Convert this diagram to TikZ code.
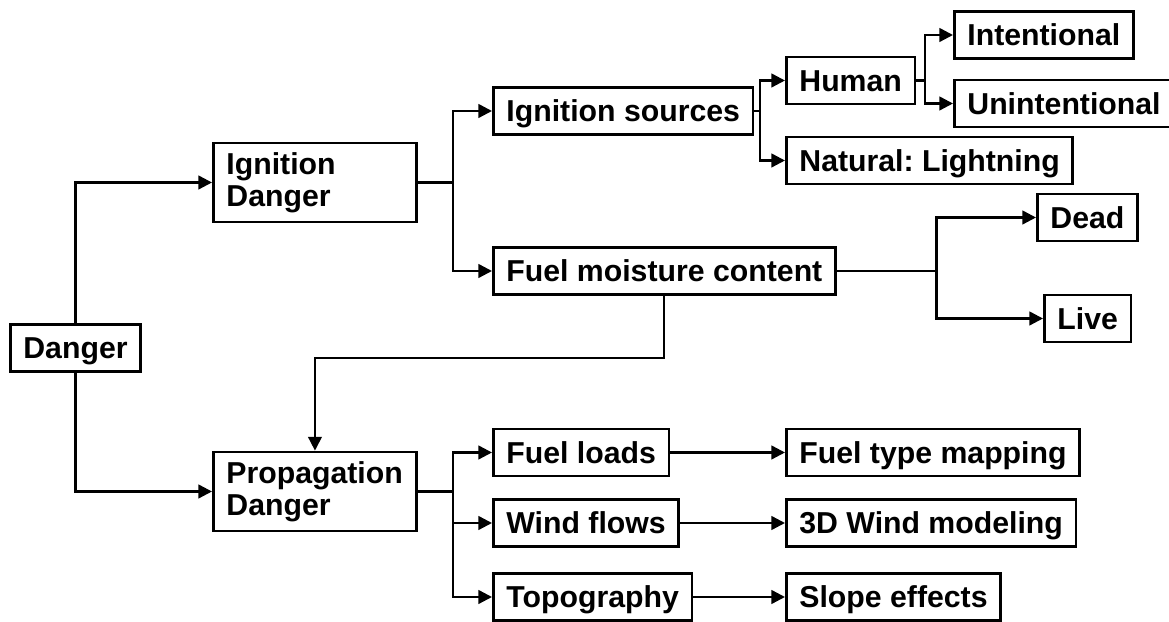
\documentclass[tikz,border=0pt]{standalone}
\usepackage{fontspec}
\setmainfont{Liberation Sans}
\usetikzlibrary{arrows.meta}
\begin{document}
\begin{tikzpicture}[x=0.01cm,y=-0.01cm]
\tikzset{
    base box/.style={draw, line width=0.8pt, anchor=west, align=left, inner xsep=0.13cm, inner ysep=0pt,
        font=\fontsize{8.6}{9}\selectfont\bfseries\frenchspacing},
    box/.style={base box, text height=6.2pt, text depth=0pt, minimum height=0.47cm},
    tall box/.style={base box, text width=1.77cm, minimum height=0.79cm},
    join line/.style={line width=0.7pt},
    link/.style={join line, -{Triangle[length=3.9pt,width=3.9pt]}},
    feed line/.style={link, line width=0.5pt}}
\useasboundingbox (0,0) rectangle (1169,622);

% boxes
\node[box] (Danger) at (9,348) {Danger};
\node[tall box] (IgnDanger) at (212,182.5) {Ignition\\Danger};
\node[tall box] (PropDanger) at (212,491.5) {Propagation\\Danger};

\node[box] (IgnSources) at (492,111) {Ignition sources};
\node[box] (FuelMoist) at (492,271) {Fuel moisture content};
\node[box] (Human) at (785,80.5) {Human};
\node[box] (Natural) at (785,160.5) {Natural: Lightning};
\node[box] (Intent) at (953,35) {Intentional};
\node[box] (Unintent) at (953,103.5) {Unintentional};
\node[box] (Dead) at (1036,217.5) {Dead};
\node[box] (Live) at (1043,318.5) {Live};

\node[box] (FuelLoads) at (492,452.5) {Fuel loads};
\node[box] (WindFlows) at (492,523) {Wind flows};
\node[box] (Topo) at (492,597) {Topography};
\node[box] (FuelType) at (785,452.5) {Fuel type mapping};
\node[box] (WindModel) at (785,523) {3D Wind modeling};
\node[box] (Slope) at (785,597) {Slope effects};

% branch points
\coordinate (IgnJoin) at (453,182.5);
\coordinate (PropJoin) at (453,491.5);
\coordinate (SrcJoin) at (760,111);
\coordinate (HumJoin) at (925,80.5);
\coordinate (MoistJoin) at (936.5,271);

\draw[link] (Danger.north) |- (IgnDanger.west);
\draw[link] (Danger.south) |- (PropDanger.west);

\draw[join line] (IgnDanger.east) -- (IgnJoin);
\draw[link] (IgnJoin) |- (IgnSources.west);
\draw[link] (IgnJoin) |- (FuelMoist.west);

\draw[join line] (IgnSources.east) -- (SrcJoin);
\draw[link] (SrcJoin) |- (Human.west);
\draw[link] (SrcJoin) |- (Natural.west);

\draw[join line] (Human.east) -- (HumJoin);
\draw[link] (HumJoin) |- (Intent.west);
\draw[link] (HumJoin) |- (Unintent.west);

\draw[join line] (FuelMoist.east) -- (MoistJoin);
\draw[link] (MoistJoin) |- (Dead.west);
\draw[link] (MoistJoin) |- (Live.west);

\draw[feed line] (FuelMoist.south) -- ++(0,62) -| (PropDanger.north);

\draw[join line] (PropDanger.east) -- (PropJoin);
\draw[link] (PropJoin) |- (FuelLoads.west);
\draw[link] (PropJoin) |- (WindFlows.west);
\draw[link] (PropJoin) |- (Topo.west);

\draw[link] (FuelLoads.east) -- (FuelType.west);
\draw[link] (WindFlows.east) -- (WindModel.west);
\draw[link] (Topo.east) -- (Slope.west);

\end{tikzpicture}
\end{document}
